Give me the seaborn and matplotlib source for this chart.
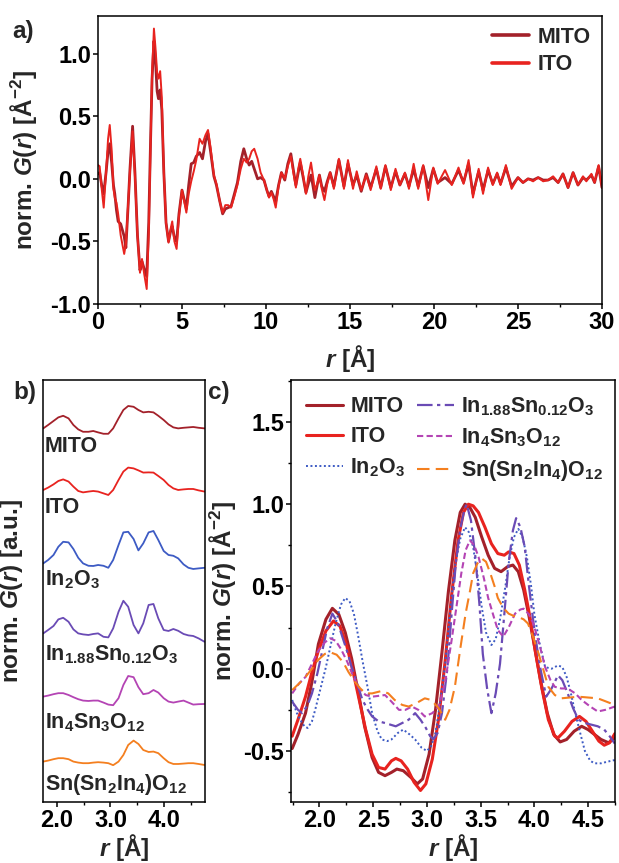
import matplotlib
matplotlib.use("Agg")
import matplotlib.pyplot as plt
from matplotlib.ticker import MultipleLocator, FormatStrFormatter
import seaborn as sns

# ---- panel a: full-range PDF (r in Angstrom, normalised G(r)) ----
r_a = [0.00, 0.10, 0.22, 0.34, 0.48, 0.60, 0.70, 0.82, 0.92, 1.00,
       1.10, 1.20, 1.35, 1.56, 1.66, 1.80, 1.90, 2.06, 2.20, 2.35,
       2.50, 2.62, 2.75, 2.90, 3.02, 3.12, 3.22, 3.33, 3.42, 3.52,
       3.60, 3.70, 3.80, 3.92, 4.05, 4.20, 4.32, 4.42, 4.55, 4.68,
       4.82, 5.00, 5.12, 5.26, 5.40, 5.55, 5.70, 5.85, 6.05, 6.22,
       6.40, 6.55, 6.70, 6.90, 7.05, 7.25, 7.42, 7.58, 7.75, 7.92,
       8.10, 8.30, 8.50, 8.68, 8.85, 9.00, 9.15, 9.30, 9.50, 9.68,
       9.88, 10.05, 10.18, 10.32, 10.45, 10.58, 10.75, 10.92, 11.12, 11.30,
       11.48, 11.63, 11.78, 11.92, 12.04, 12.20, 12.38, 12.52, 12.68, 12.80,
       12.91, 13.05, 13.18, 13.32, 13.48, 13.65, 13.82, 14.04, 14.34, 14.64,
       14.88, 15.18, 15.40, 15.67, 15.97, 16.23, 16.57, 16.83, 17.11, 17.43,
       17.71, 17.97, 18.27, 18.51, 18.79, 19.06, 19.36, 19.66, 19.96, 20.22,
       20.66, 21.06, 21.46, 21.76, 22.06, 22.32, 22.66, 22.92, 23.22, 23.50,
       23.76, 23.96, 24.28, 24.62, 25.00, 25.30, 25.60, 25.90, 26.20, 26.50,
       26.79, 27.09, 27.39, 27.68, 27.98, 28.28, 28.57, 28.87, 29.07, 29.37,
       29.56, 29.80, 30.00]
g_mito_a = [0.04, 0.05, -0.05, -0.12, 0.05, 0.22, 0.28, 0.12, -0.05, -0.12,
            -0.25, -0.34, -0.36, -0.46, -0.55, -0.20, 0.07, 0.42, 0.05, -0.45,
            -0.73, -0.66, -0.72, -0.78, -0.35, 0.25, 0.80, 1.10, 0.95, 0.70,
            0.64, 0.71, 0.55, 0.05, -0.35, -0.50, -0.42, -0.38, -0.47, -0.50,
            -0.28, -0.09, -0.16, -0.24, -0.05, 0.12, 0.13, 0.18, 0.21, 0.16,
            0.30, 0.36, 0.22, 0.02, -0.05, -0.18, -0.28, -0.24, -0.23, -0.22,
            -0.13, -0.03, 0.14, 0.24, 0.16, 0.11, 0.14, 0.08, 0.00, 0.01,
            -0.01, -0.09, -0.14, -0.10, -0.14, -0.18, -0.05, 0.05, -0.01, 0.12,
            0.20, 0.07, -0.05, 0.05, 0.13, 0.02, -0.11, -0.04, 0.03, -0.06,
            -0.15, -0.05, 0.03, -0.06, -0.10, -0.02, 0.05, -0.06, 0.15, -0.06,
            0.12, -0.05, 0.03, -0.10, 0.04, -0.07, 0.08, -0.07, 0.10, -0.07,
            0.06, -0.05, 0.04, -0.06, 0.08, -0.06, 0.10, -0.07, 0.08, -0.03,
            0.01, -0.04, 0.07, -0.03, 0.12, -0.12, 0.06, -0.09, 0.07, -0.04,
            0.04, -0.04, 0.09, -0.06, 0.01, -0.03, 0.00, -0.01, 0.01, -0.01,
            -0.01, 0.01, -0.03, 0.04, -0.07, 0.05, -0.05, 0.01, -0.01, 0.03,
            -0.03, 0.10, -0.07]
g_ito_a = [0.11, 0.10, -0.08, -0.23, 0.05, 0.32, 0.43, 0.22, -0.08, -0.15,
           -0.19, -0.28, -0.45, -0.60, -0.52, -0.18, 0.05, 0.38, 0.02, -0.45,
           -0.75, -0.64, -0.76, -0.88, -0.45, 0.20, 0.85, 1.20, 1.05, 0.85,
           0.80, 0.86, 0.65, 0.05, -0.35, -0.51, -0.40, -0.34, -0.50, -0.56,
           -0.30, -0.09, -0.17, -0.27, -0.12, -0.02, 0.06, 0.15, 0.32, 0.28,
           0.35, 0.39, 0.25, 0.03, -0.04, -0.18, -0.27, -0.21, -0.21, -0.23,
           -0.15, -0.05, 0.08, 0.16, 0.13, 0.16, 0.22, 0.24, 0.16, 0.05,
           -0.01, -0.09, -0.15, -0.11, -0.16, -0.23, -0.06, 0.05, 0.00, 0.10,
           0.18, 0.05, -0.07, 0.08, 0.16, 0.04, -0.12, 0.02, 0.13, 0.02,
           -0.09, -0.04, 0.03, -0.08, -0.17, -0.04, 0.05, -0.08, 0.16, -0.08,
           0.15, -0.08, 0.06, -0.09, 0.03, -0.09, 0.10, -0.08, 0.11, -0.09,
           0.08, -0.05, 0.05, -0.08, 0.12, -0.08, 0.11, -0.17, 0.09, -0.04,
           0.07, -0.05, 0.09, -0.04, 0.15, -0.15, 0.08, -0.12, 0.09, -0.05,
           0.05, -0.05, 0.11, -0.08, 0.01, -0.03, 0.00, -0.02, 0.01, -0.02,
           -0.01, 0.02, -0.03, 0.04, -0.07, 0.05, -0.05, 0.02, -0.02, 0.04,
           -0.03, 0.11, -0.07]

# ---- panel b: stacked short-range PDFs (a.u., relative to each baseline) ----
r_b = [1.75, 1.84, 1.94, 2.03, 2.12, 2.22, 2.31, 2.40, 2.49, 2.59, 2.68,
       2.77, 2.87, 2.96, 3.05, 3.15, 3.24, 3.33, 3.43, 3.52, 3.61, 3.71,
       3.80, 3.89, 3.99, 4.08, 4.17, 4.26, 4.36, 4.45, 4.54, 4.64, 4.75]
b_mito = [0, 0.17, 0.37, 0.55, 0.63, 0.50, 0.17, -0.05, -0.17, -0.17, -0.13,
          -0.20, -0.27, -0.27, 0, 0.50, 0.92, 1.12, 1.08, 0.92, 0.80, 0.83,
          0.80, 0.63, 0.42, 0.20, 0.05, 0, 0.03, 0.05, 0.07, 0.03, 0]
b_ito = [0, 0.12, 0.28, 0.45, 0.53, 0.42, 0.17, -0.05, -0.12, -0.08, -0.05,
         -0.08, -0.17, -0.25, 0, 0.50, 0.92, 1.12, 1.08, 0.98, 0.87, 0.88,
         0.87, 0.70, 0.50, 0.25, 0.08, 0, 0.03, 0.05, 0.05, -0.02, -0.08]
b_in2o3 = [0, 0.17, 0.42, 0.83, 1.08, 1.05, 0.72, 0.28, 0, -0.12, -0.13,
           -0.08, -0.12, -0.22, 0.17, 0.92, 1.55, 1.58, 1.22, 0.65, 1.00, 1.55,
           1.62, 1.17, 0.62, 0.42, 0.38, 0.25, -0.05, -0.22, -0.28, -0.25, -0.22]
b_insn = [0, 0.17, 0.37, 0.70, 0.78, 0.58, 0.20, 0, -0.05, -0.08, -0.03,
          0, -0.17, -0.20, 0.25, 1.08, 1.63, 1.33, 0.42, 0, 0.50, 1.42,
          1.47, 0.75, 0.17, 0.12, 0.22, 0.13, -0.03, -0.10, -0.13, -0.25, -0.42]
b_in4sn3 = [0, 0.05, 0.12, 0.17, 0.17, 0.08, -0.03, -0.13, -0.20, -0.22, -0.20,
            -0.20, -0.30, -0.40, -0.43, -0.08, 0.58, 1.03, 0.97, 0.47, 0.12, 0.17,
            0.33, 0.20, -0.08, -0.25, -0.30, -0.25, -0.20, -0.30, -0.40, -0.38, -0.37]
b_snsn = [0, 0.05, 0.12, 0.17, 0.17, 0.12, 0, -0.05, -0.08, -0.08, -0.05,
          -0.03, -0.05, -0.08, -0.18, 0, 0.33, 0.83, 1.05, 0.88, 0.58, 0.48,
          0.50, 0.42, 0.17, -0.03, -0.12, -0.12, -0.10, -0.08, -0.08, -0.12, -0.17]
b_offsets = [18.68, 15.6, 11.93, 8.43, 5.27, 2.02]

# ---- panel c: overlay, normalised to first-shell maximum ----
r_c_mito = [1.746, 1.80, 1.87, 1.93, 1.99, 2.06, 2.12, 2.18, 2.24, 2.30, 2.36,
            2.42, 2.49, 2.55, 2.61, 2.67, 2.72, 2.78, 2.85, 2.91, 2.96, 3.02,
            3.08, 3.14, 3.20, 3.26, 3.31, 3.355, 3.40, 3.45, 3.51, 3.57, 3.63,
            3.69, 3.75, 3.80, 3.85, 3.90, 3.95, 4.00, 4.06, 4.12, 4.18, 4.24,
            4.30, 4.37, 4.44, 4.50, 4.56, 4.62, 4.69, 4.748]
c_mito = [-0.485, -0.40, -0.27, -0.08, 0.15, 0.30, 0.367, 0.33, 0.22, 0.06, -0.14,
          -0.35, -0.54, -0.63, -0.65, -0.63, -0.61, -0.62, -0.66, -0.70, -0.67, -0.52,
          -0.25, 0.10, 0.47, 0.78, 0.95, 1.0, 0.98, 0.92, 0.80, 0.69, 0.61,
          0.59, 0.62, 0.63, 0.59, 0.48, 0.32, 0.14, -0.08, -0.27, -0.40, -0.445,
          -0.43, -0.38, -0.35, -0.37, -0.40, -0.43, -0.45, -0.42]
r_c_ito = [1.746, 1.80, 1.87, 1.93, 1.99, 2.06, 2.13, 2.19, 2.25, 2.31, 2.37,
           2.43, 2.49, 2.55, 2.61, 2.67, 2.71, 2.76, 2.82, 2.88, 2.94, 2.99,
           3.05, 3.11, 3.17, 3.23, 3.29, 3.34, 3.386, 3.43, 3.48, 3.54, 3.60,
           3.66, 3.72, 3.76, 3.81, 3.86, 3.91, 3.96, 4.01, 4.07, 4.13, 4.19,
           4.22, 4.28, 4.35, 4.42, 4.48, 4.54, 4.60, 4.65, 4.70, 4.748]
c_ito = [-0.41, -0.31, -0.17, -0.02, 0.11, 0.23, 0.29, 0.26, 0.15, -0.01, -0.19,
         -0.37, -0.52, -0.60, -0.61, -0.56, -0.545, -0.56, -0.61, -0.69, -0.74, -0.70,
         -0.55, -0.30, 0.05, 0.45, 0.78, 0.95, 1.0, 0.99, 0.95, 0.86, 0.76,
         0.70, 0.69, 0.71, 0.70, 0.63, 0.48, 0.31, 0.10, -0.12, -0.31, -0.41,
         -0.42, -0.38, -0.32, -0.29, -0.32, -0.38, -0.44, -0.465, -0.45, -0.395]
r_c_in2o3 = [1.746, 1.79, 1.82, 1.86, 1.89, 1.93, 1.96, 2.01, 2.06, 2.11, 2.15,
             2.20, 2.24, 2.28, 2.32, 2.36, 2.40, 2.45, 2.49, 2.54, 2.58, 2.63,
             2.67, 2.73, 2.78, 2.84, 2.89, 2.95, 3.00, 3.04, 3.08, 3.12, 3.17,
             3.22, 3.26, 3.31, 3.355, 3.39, 3.43, 3.47, 3.51, 3.55, 3.60, 3.64,
             3.68, 3.73, 3.77, 3.81, 3.85, 3.89, 3.93, 3.97, 4.00, 4.05, 4.10,
             4.16, 4.22, 4.26, 4.30, 4.34, 4.38, 4.43, 4.47, 4.52, 4.56, 4.62,
             4.68, 4.748]
c_in2o3 = [-0.19, -0.27, -0.31, -0.35, -0.36, -0.32, -0.25, -0.12, 0.01, 0.16, 0.275,
           0.39, 0.43, 0.41, 0.335, 0.20, 0.05, -0.12, -0.27, -0.38, -0.43, -0.44,
           -0.43, -0.39, -0.37, -0.40, -0.43, -0.48, -0.50, -0.47, -0.39, -0.22, 0.03,
           0.38, 0.62, 0.79, 0.86, 0.83, 0.74, 0.57, 0.375, 0.22, 0.144, 0.18,
           0.30, 0.50, 0.68, 0.80, 0.85, 0.80, 0.68, 0.50, 0.33, 0.15, 0.01,
           0.00, 0.02, 0.01, -0.05, -0.15, -0.27, -0.40, -0.50, -0.56, -0.575, -0.575,
           -0.565, -0.555]
r_c_insn = [1.746, 1.80, 1.84, 1.89, 1.93, 1.98, 2.02, 2.07, 2.12, 2.17, 2.21,
            2.26, 2.30, 2.35, 2.40, 2.45, 2.49, 2.55, 2.61, 2.66, 2.71, 2.77,
            2.83, 2.89, 2.94, 2.99, 3.03, 3.06, 3.10, 3.14, 3.19, 3.23, 3.27,
            3.31, 3.35, 3.37, 3.41, 3.45, 3.49, 3.52, 3.56, 3.60, 3.64, 3.68,
            3.72, 3.76, 3.80, 3.83, 3.87, 3.91, 3.95, 4.00, 4.05, 4.11, 4.16,
            4.22, 4.26, 4.31, 4.36, 4.41, 4.47, 4.53, 4.59, 4.65, 4.70, 4.748]
c_insn = [-0.20, -0.25, -0.27, -0.22, -0.15, -0.03, 0.09, 0.24, 0.335, 0.28, 0.20,
          0.10, 0.01, -0.09, -0.19, -0.25, -0.29, -0.32, -0.33, -0.34, -0.35, -0.33,
          -0.31, -0.27, -0.31, -0.36, -0.41, -0.43, -0.39, -0.27, 0.00, 0.335, 0.65,
          0.85, 0.97, 1.0, 0.90, 0.685, 0.38, 0.09, -0.12, -0.27, -0.15, 0.03,
          0.33, 0.64, 0.84, 0.915, 0.86, 0.74, 0.50, 0.235, 0.02, -0.17, -0.12,
          -0.04, -0.07, -0.15, -0.24, -0.31, -0.33, -0.34, -0.35, -0.37, -0.41, -0.455]
r_c_in4sn3 = [1.746, 1.81, 1.87, 1.93, 1.99, 2.05, 2.10, 2.15, 2.20, 2.26, 2.31,
              2.37, 2.43, 2.49, 2.55, 2.61, 2.67, 2.74, 2.80, 2.86, 2.92, 2.98,
              3.05, 3.11, 3.17, 3.23, 3.28, 3.32, 3.36, 3.40, 3.44, 3.48, 3.53,
              3.57, 3.62, 3.66, 3.71, 3.76, 3.82, 3.87, 3.90, 3.95, 3.99, 4.05,
              4.10, 4.15, 4.19, 4.25, 4.31, 4.38, 4.44, 4.52, 4.59, 4.66, 4.748]
c_in4sn3 = [-0.15, -0.09, -0.05, 0.03, 0.11, 0.16, 0.185, 0.17, 0.12, 0.04, -0.04,
            -0.12, -0.16, -0.17, -0.165, -0.16, -0.20, -0.25, -0.25, -0.23, -0.25, -0.29,
            -0.27, -0.23, -0.08, 0.175, 0.40, 0.58, 0.72, 0.78, 0.75, 0.68, 0.55,
            0.43, 0.32, 0.235, 0.195, 0.25, 0.335, 0.36, 0.365, 0.33, 0.275, 0.14,
            0.01, -0.07, -0.11, -0.12, -0.12, -0.15, -0.19, -0.23, -0.26, -0.25, -0.23]
r_c_snsn = [1.746, 1.81, 1.87, 1.93, 1.99, 2.05, 2.10, 2.16, 2.22, 2.27, 2.33,
            2.38, 2.43, 2.49, 2.55, 2.58, 2.64, 2.70, 2.77, 2.83, 2.90, 2.98,
            3.04, 3.11, 3.17, 3.21, 3.26, 3.31, 3.36, 3.40, 3.43, 3.47, 3.51,
            3.55, 3.59, 3.63, 3.66, 3.71, 3.76, 3.81, 3.85, 3.90, 3.94, 3.99,
            4.04, 4.09, 4.13, 4.19, 4.25, 4.33, 4.41, 4.50, 4.59, 4.67, 4.748]
c_snsn = [-0.13, -0.09, -0.05, 0.00, 0.055, 0.09, 0.10, 0.085, 0.04, -0.02, -0.08,
          -0.12, -0.15, -0.15, -0.14, -0.135, -0.15, -0.19, -0.22, -0.23, -0.21, -0.18,
          -0.19, -0.24, -0.31, -0.25, -0.11, 0.12, 0.335, 0.47, 0.58, 0.64, 0.67,
          0.65, 0.58, 0.50, 0.43, 0.37, 0.335, 0.32, 0.315, 0.30, 0.275, 0.19,
          0.09, -0.02, -0.11, -0.16, -0.18, -0.175, -0.17, -0.175, -0.18, -0.20, -0.22]

names = ["MITO", "ITO", "In$_2$O$_3$", "In$_{1.88}$Sn$_{0.12}$O$_3$",
         "In$_4$Sn$_3$O$_{12}$", "Sn(Sn$_2$In$_4$)O$_{12}$"]
colors = ["#a3212a", "#e8231f", "#3d5bc4", "#6a4bb5", "#b444b4", "#f47f1f"]

sns.set_theme(style="ticks")
plt.rcParams.update({
    "font.family": ["Liberation Sans", "DejaVu Sans"],
    "font.weight": "bold",
    "axes.labelweight": "bold",
    "axes.unicode_minus": False,
    "mathtext.fontset": "custom",
    "mathtext.rm": "Liberation Sans:bold",
    "mathtext.it": "Liberation Sans:italic:bold",
    "mathtext.bf": "Liberation Sans:bold",
    "axes.linewidth": 1.1,
    "axes.edgecolor": "black",
    "xtick.color": "black",
    "ytick.color": "black",
    "xtick.major.size": 3.6,
    "ytick.major.size": 3.6,
    "xtick.minor.size": 2.2,
    "ytick.minor.size": 2.2,
    "xtick.major.width": 1.1,
    "ytick.major.width": 1.1,
    "xtick.minor.width": 1.0,
    "ytick.minor.width": 1.0,
})

TICK = 17
LAB = 17.5
LEG = 15.5

fig = plt.figure(figsize=(6.19, 8.63), dpi=100)
ax_a = fig.add_axes([0.1583, 0.6477, 0.8142, 0.3337])
ax_b = fig.add_axes([0.0695, 0.0707, 0.2609, 0.4890])
ax_c = fig.add_axes([0.4701, 0.0707, 0.5234, 0.4890])

for ax in (ax_a, ax_b, ax_c):
    for s in ax.spines.values():
        s.set_visible(True)
        s.set_linewidth(1.1)
    ax.tick_params(labelsize=TICK, pad=1.5)

# ---- a ----
sns.lineplot(x=r_a, y=g_mito_a, ax=ax_a, color=colors[0], lw=2.0, label="MITO",
             errorbar=None)
sns.lineplot(x=r_a, y=g_ito_a, ax=ax_a, color=colors[1], lw=1.4, label="ITO",
             errorbar=None)
ax_a.set_xlim(0, 30)
ax_a.set_ylim(-1.0, 1.3)
ax_a.xaxis.set_major_locator(MultipleLocator(5))
ax_a.xaxis.set_minor_locator(MultipleLocator(2.5))
ax_a.yaxis.set_major_locator(MultipleLocator(0.5))
ax_a.yaxis.set_major_formatter(FormatStrFormatter("%.1f"))
ax_a.set_xlabel("$r$ [Å]", fontsize=LAB)
ax_a.set_ylabel("norm. $G(r)$ [Å$^{-2}$]", fontsize=LAB)
ax_a.xaxis.set_label_coords(0.5, -0.135)
ax_a.yaxis.set_label_coords(-0.118, 0.5)
leg = ax_a.legend(frameon=False, loc="upper right", bbox_to_anchor=(1.0, 1.0),
                  fontsize=LEG, handlelength=1.75, handletextpad=0.4,
                  labelspacing=0.3, borderaxespad=0.2, borderpad=0.3)
for ln in leg.get_lines():
    ln.set_linewidth(2.6)

# ---- b ----
b_series = [b_mito, b_ito, b_in2o3, b_insn, b_in4sn3, b_snsn]
for vals, off, col in zip(b_series, b_offsets, colors):
    sns.lineplot(x=r_b, y=[v + off for v in vals], ax=ax_b, color=col, lw=1.3,
                 errorbar=None)
ax_b.set_xlim(1.745, 4.75)
ax_b.set_ylim(0, 21.1)
ax_b.set_yticks([])
ax_b.xaxis.set_major_locator(MultipleLocator(1.0))
ax_b.xaxis.set_minor_locator(MultipleLocator(0.5))
ax_b.xaxis.set_major_formatter(FormatStrFormatter("%.1f"))
ax_b.set_xlabel("$r$ [Å]", fontsize=LAB)
ax_b.set_ylabel("norm. $G(r)$ [a.u.]", fontsize=LAB)
ax_b.xaxis.set_label_coords(0.5, -0.07)
ax_b.yaxis.set_label_coords(-0.11, 0.5)
label_y = [0.829, 0.685, 0.514, 0.336, 0.175, 0.028]
for name, ly in zip(names, label_y):
    ax_b.text(0.012, ly, name, transform=ax_b.transAxes, fontsize=LEG,
              ha="left", va="baseline")

# ---- c ----
c_series = [(r_c_mito, c_mito), (r_c_ito, c_ito), (r_c_in2o3, c_in2o3),
            (r_c_insn, c_insn), (r_c_in4sn3, c_in4sn3), (r_c_snsn, c_snsn)]
styles = ["-", "-", (0, (1, 1.3)), (0, (7, 2, 1.5, 2)), (0, (3, 1.6)), (0, (6, 3))]
widths = [2.2, 2.2, 1.4, 1.6, 1.5, 1.5]
for (rr, gg), name, col, ls, lw in zip(c_series, names, colors, styles, widths):
    sns.lineplot(x=rr, y=gg, ax=ax_c, color=col, lw=lw, linestyle=ls, label=name,
                 errorbar=None)
ax_c.set_xlim(1.735, 4.75)
ax_c.set_ylim(-0.81, 1.755)
ax_c.xaxis.set_major_locator(MultipleLocator(0.5))
ax_c.xaxis.set_minor_locator(MultipleLocator(0.25))
ax_c.yaxis.set_major_locator(MultipleLocator(0.5))
ax_c.yaxis.set_minor_locator(MultipleLocator(0.25))
ax_c.xaxis.set_major_formatter(FormatStrFormatter("%.1f"))
ax_c.yaxis.set_major_formatter(FormatStrFormatter("%.1f"))
ax_c.set_xlabel("$r$ [Å]", fontsize=LAB)
ax_c.set_ylabel("norm. $G(r)$ [Å$^{-2}$]", fontsize=LAB)
ax_c.xaxis.set_label_coords(0.5, -0.07)
ax_c.yaxis.set_label_coords(-0.165, 0.5)
ax_c.legend(frameon=False, loc="upper left", bbox_to_anchor=(0.0, 1.0), ncol=2,
            fontsize=LEG, handlelength=1.7, handletextpad=0.35,
            labelspacing=0.42, columnspacing=0.55, borderaxespad=0.3,
            borderpad=0.4)

fig.text(12 / 619, 1 - 20 / 863, "a)", fontsize=LAB, va="top", ha="left")
fig.text(13 / 619, 1 - 381 / 863, "b)", fontsize=LAB, va="top", ha="left")
fig.text(208 / 619, 1 - 381 / 863, "c)", fontsize=LAB, va="top", ha="left")

fig.savefig("out.png", dpi=100)
